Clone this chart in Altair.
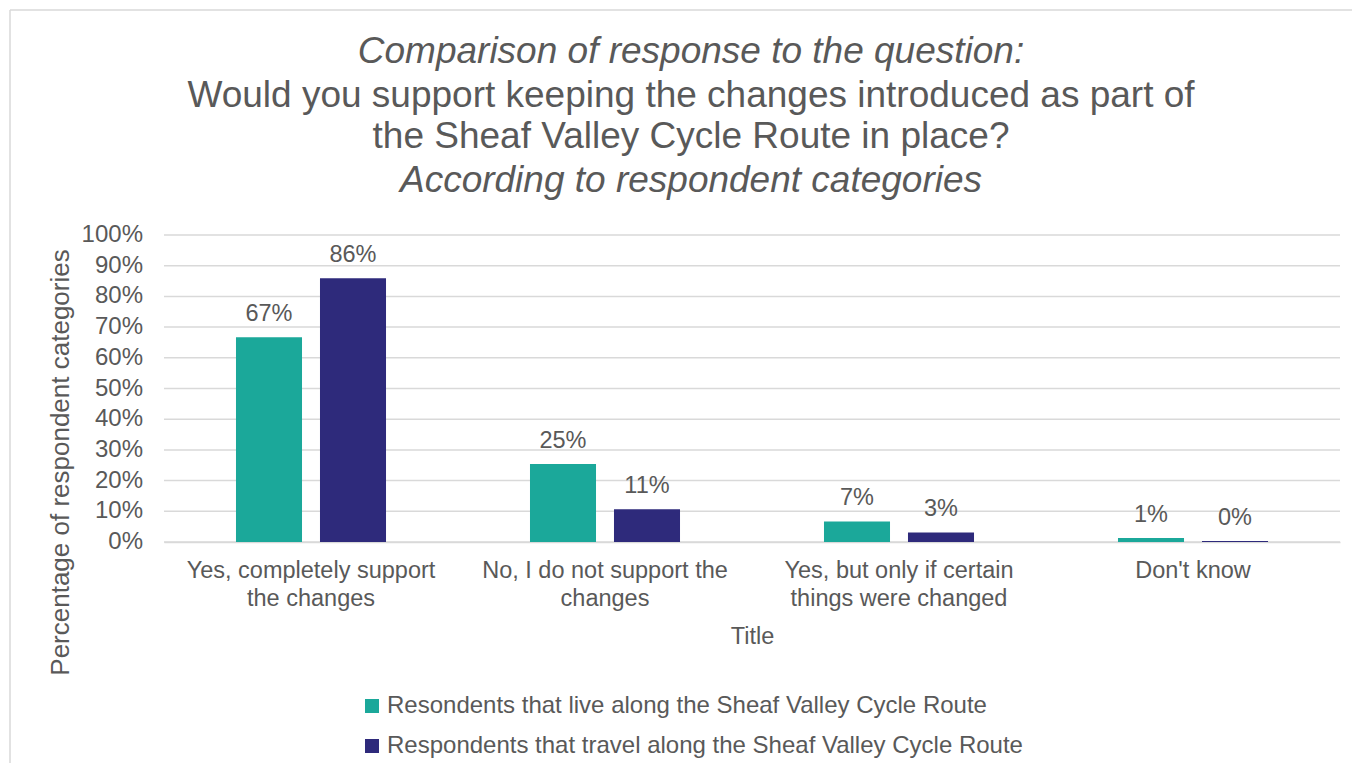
import altair as alt
import pandas as pd

categories = [
    "Yes, completely support\nthe changes",
    "No, I do not support the\nchanges",
    "Yes, but only if certain\nthings were changed",
    "Don't know",
]
series = [
    "Resondents that live along the Sheaf Valley Cycle Route",
    "Respondents that travel along the Sheaf Valley Cycle Route",
]
live_values = [0.667, 0.254, 0.067, 0.013]
travel_values = [0.859, 0.107, 0.031, 0.003]
y_ticks = [0.0, 0.1, 0.2, 0.3, 0.4, 0.5, 0.6, 0.7, 0.8, 0.9, 1.0]
colors = ["#1BA89A", "#2E2A7B"]
title_lines = [
    ("Comparison of response to the question:", "italic"),
    ("Would you support keeping the changes introduced as part of", "normal"),
    ("the Sheaf Valley Cycle Route in place?", "normal"),
    ("According to respondent categories", "italic"),
]

rows = []
for c, v in zip(categories, live_values):
    rows.append({"cat": c, "series": series[0], "value": v})
for c, v in zip(categories, travel_values):
    rows.append({"cat": c, "series": series[1], "value": v})
df = pd.DataFrame(rows)
tick_df = pd.DataFrame({"value": y_ticks})

FONT = "Liberation Sans"
GREY = "#595959"
GRID = "#D9D9D9"
W, H = 1176, 307
FS = 23.5

x = alt.X("cat:N", sort=categories,
          scale=alt.Scale(paddingInner=0, paddingOuter=0),
          axis=alt.Axis(title="Title", labelAngle=0, ticks=False,
                        labelExpr="split(datum.value, '\\n')",
                        labelLineHeight=28, labelPadding=16,
                        labelFontSize=FS, titleFontSize=FS,
                        titleFontWeight="normal", titlePadding=15,
                        labelLimit=0, labelOverlap=False,
                        labelColor=GREY, titleColor=GREY,
                        domainColor=GRID, domainWidth=1.5,
                        labelFont=FONT, titleFont=FONT))
xo = alt.XOffset("series:N", sort=series,
                 scale=alt.Scale(paddingInner=0.214, paddingOuter=0.857))
y_axis = alt.Axis(title="Percentage of respondent categories",
                  domain=False, ticks=False, labels=False, grid=False,
                  titleFontSize=26, titleFontWeight="normal",
                  titleColor=GREY, titleFont=FONT,
                  titleX=-104, titleY=227, titleAngle=-90,
                  titleAlign="center", titleBaseline="middle")
y = alt.Y("value:Q", scale=alt.Scale(domain=[0, 1]), axis=y_axis)

grid = alt.Chart(tick_df).mark_rule(color=GRID, strokeWidth=1.5).encode(
    y=y, x=alt.value(0), x2=alt.value(W))
tick_labels = alt.Chart(tick_df).mark_text(
    align="right", baseline="middle", fontSize=24, color=GREY, font=FONT
).encode(y=y, x=alt.value(-21), text=alt.Text("value:Q", format=".0%"))

bars = alt.Chart(df).mark_bar().encode(
    x=x, xOffset=xo, y=y,
    color=alt.Color("series:N", sort=series,
                    scale=alt.Scale(domain=series, range=colors),
                    legend=alt.Legend(title=None, orient="none",
                                      legendX=196, legendY=459,
                                      symbolType="square", symbolSize=196,
                                      symbolStrokeWidth=0,
                                      labelFontSize=24, labelColor=GREY,
                                      labelFont=FONT, rowPadding=16,
                                      labelOffset=3, labelLimit=0)),
)

labels = alt.Chart(df).mark_text(
    baseline="alphabetic", dy=-16, fontSize=FS, color=GREY, font=FONT
).encode(x=x, xOffset=xo, y=y,
         text=alt.Text("value:Q", format=".0%"))

title_layers = []
ys = [52, 96, 137, 181]
for (t, style), yy in zip(title_lines, ys):
    title_layers.append(
        alt.Chart(pd.DataFrame({"t": [t]})).mark_text(
            fontSize=37, fontStyle=style, color=GREY, font=FONT,
            align="center", baseline="middle"
        ).encode(text="t:N", x=alt.value(527), y=alt.value(yy - 235))
    )

border_v = alt.Chart(pd.DataFrame({"a": [0]})).mark_rule(
    color=GRID, strokeWidth=1.5
).encode(x=alt.value(-154), y=alt.value(-225), y2=alt.value(540))
border_h = alt.Chart(pd.DataFrame({"a": [0]})).mark_rule(
    color=GRID, strokeWidth=1.5
).encode(x=alt.value(-154), x2=alt.value(1190), y=alt.value(-225))

chart = alt.layer(grid, tick_labels, bars, labels, *title_layers,
                  border_v, border_h).properties(
    width=W, height=H,
    autosize=alt.AutoSizeParams(type="none"),
    padding={"left": 156, "top": 227, "right": 12, "bottom": 221},
).configure_view(stroke=None)

chart.save("out.html", embed_options={"renderer": "svg", "actions": False})
